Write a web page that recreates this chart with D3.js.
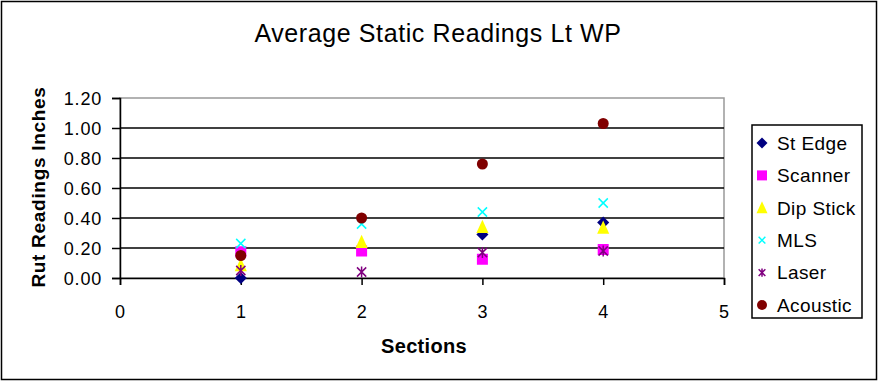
<!DOCTYPE html>
<html>
<head>
<meta charset="utf-8">
<script src="https://cdn.jsdelivr.net/npm/d3@7"></script>
<style>
  body { margin: 0; background: #fff; }
  text { font-family: "Liberation Sans", Arial, sans-serif; }
</style>
</head>
<body>
<div id="chart"></div>
<script>
// data
const sections = [1, 2, 3, 4]
const stEdge   = [0.00, null, 0.29, 0.37]
const scanner  = [0.175, 0.18, 0.125, 0.19]
const dipStick = [0.085, 0.24, 0.34, 0.335]
const mls      = [0.23, 0.36, 0.44, 0.50]
const laser    = [0.05, 0.04, 0.17, 0.18]
const acoustic = [0.15, 0.40, 0.76, 1.03]
const yTicks = [0, 0.2, 0.4, 0.6, 0.8, 1.0, 1.2]
const xTicks = [0, 1, 2, 3, 4, 5]

const series = [
  { name: 'St Edge', values: stEdge, color: '#000080', shape: 'diamond' },
  { name: 'Scanner', values: scanner, color: '#FF00FF', shape: 'square' },
  { name: 'Dip Stick', values: dipStick, color: '#FFFF00', shape: 'triangle' },
  { name: 'MLS', values: mls, color: '#00FFFF', shape: 'x' },
  { name: 'Laser', values: laser, color: '#800080', shape: 'star' },
  { name: 'Acoustic', values: acoustic, color: '#800000', shape: 'circle' }
]

const width = 878, height = 381
const plot = { left: 120, right: 724, top: 98, bottom: 278 }

const svg = d3.select('#chart').append('svg')
  .attr('width', width)
  .attr('height', height)

// outer chart border
svg.append('rect')
  .attr('x', 1.5).attr('y', 1.5)
  .attr('width', width - 3).attr('height', height - 3)
  .attr('fill', 'white').attr('stroke', 'black').attr('stroke-width', 1.5)

const x = d3.scaleLinear().domain([0, 5]).range([plot.left, plot.right])
const y = d3.scaleLinear().domain([0, 1.2]).range([plot.bottom, plot.top])

// plot area frame (gray)
svg.append('rect')
  .attr('x', plot.left).attr('y', plot.top)
  .attr('width', plot.right - plot.left).attr('height', plot.bottom - plot.top)
  .attr('fill', 'white').attr('stroke', '#999').attr('stroke-width', 1.5)

// gridlines
svg.append('g').selectAll('line')
  .data(yTicks.filter(d => d > 0 && d < 1.2))
  .enter().append('line')
  .attr('x1', plot.left).attr('x2', plot.right)
  .attr('y1', d => y(d)).attr('y2', d => y(d))
  .attr('stroke', 'black').attr('stroke-width', 1.5)

// axes
const yAxis = svg.append('g')
  .attr('transform', `translate(${plot.left},0)`)
  .call(d3.axisLeft(y).tickValues(yTicks).tickFormat(d3.format('.2f')).tickSize(8).tickPadding(10))
const xAxis = svg.append('g')
  .attr('transform', `translate(0,${plot.bottom})`)
  .call(d3.axisBottom(x).tickValues(xTicks).tickFormat(d3.format('d')).tickSize(7).tickPadding(20))

;[yAxis, xAxis].forEach(a => {
  a.select('.domain').attr('stroke', 'black').attr('stroke-width', 1.5)
  a.selectAll('.tick line').attr('stroke', 'black').attr('stroke-width', 1.5)
  a.selectAll('.tick text')
    .attr('fill', 'black')
    .attr('font-size', 18)
    .attr('letter-spacing', 0.8)
    .attr('font-family', '"Liberation Sans", Arial, sans-serif')
})
yAxis.selectAll('.tick text').attr('dy', '0.36em')

// marker drawing
function marker(g, shape, color, s) {
  if (shape === 'diamond') {
    const r = s * 0.55
    g.append('path').attr('d', `M0,${-r}L${r},0L0,${r}L${-r},0Z`).attr('fill', color)
  } else if (shape === 'square') {
    g.append('rect').attr('x', -s / 2).attr('y', -s / 2).attr('width', s).attr('height', s).attr('fill', color)
  } else if (shape === 'triangle') {
    g.append('path').attr('d', `M0,${-s * 0.65}L${s * 0.55},${s * 0.55}L${-s * 0.55},${s * 0.55}Z`).attr('fill', color)
  } else if (shape === 'x') {
    const r = s * 0.42
    g.append('path').attr('d', `M${-r},${-r}L${r},${r}M${r},${-r}L${-r},${r}`)
      .attr('stroke', color).attr('stroke-width', 1.5).attr('fill', 'none')
  } else if (shape === 'star') {
    const r = s * 0.42
    g.append('path').attr('d', `M${-r},${-r}L${r},${r}M${r},${-r}L${-r},${r}M0,${-r * 1.2}L0,${r * 1.2}`)
      .attr('stroke', color).attr('stroke-width', 1.5).attr('fill', 'none')
  } else if (shape === 'circle') {
    g.append('circle').attr('r', s / 2).attr('fill', color)
  }
}

// points
series.forEach(sr => {
  const g = svg.append('g').attr('class', 'series')
  sr.values.forEach((v, i) => {
    if (v === null) return
    const m = g.append('g').attr('transform', `translate(${x(sections[i])},${y(v)})`)
    marker(m, sr.shape, sr.color, 11)
  })
})

// title
svg.append('text')
  .attr('x', 438).attr('y', 42)
  .attr('text-anchor', 'middle')
  .attr('font-size', 25)
  .attr('letter-spacing', 0.6)
  .attr('fill', 'black')
  .text('Average Static Readings Lt WP')

// axis titles
svg.append('text')
  .attr('transform', `translate(45,${(plot.top + plot.bottom) / 2 - 1}) rotate(-90)`)
  .attr('text-anchor', 'middle')
  .attr('font-size', 19)
  .attr('letter-spacing', 0.7)
  .attr('font-weight', 'bold')
  .attr('fill', 'black')
  .text('Rut Readings Inches')

svg.append('text')
  .attr('x', 424).attr('y', 353)
  .attr('text-anchor', 'middle')
  .attr('font-size', 20)
  .attr('letter-spacing', 0.3)
  .attr('font-weight', 'bold')
  .attr('fill', 'black')
  .text('Sections')

// legend
const legend = svg.append('g').attr('class', 'legend')
legend.append('rect')
  .attr('x', 752).attr('y', 125)
  .attr('width', 110).attr('height', 193)
  .attr('fill', 'white').attr('stroke', 'black').attr('stroke-width', 1.5)

series.forEach((sr, i) => {
  const ly = 143 + i * 32.4
  const m = legend.append('g').attr('transform', `translate(762,${ly})`)
  marker(m, sr.shape, sr.color, sr.shape === 'x' || sr.shape === 'star' ? 8 : 10)
  legend.append('text')
    .attr('x', 777).attr('y', ly)
    .attr('dy', '0.36em')
    .attr('font-size', 19)
    .attr('letter-spacing', 0.4)
    .attr('fill', 'black')
    .text(sr.name)
})
</script>
</body>
</html>
